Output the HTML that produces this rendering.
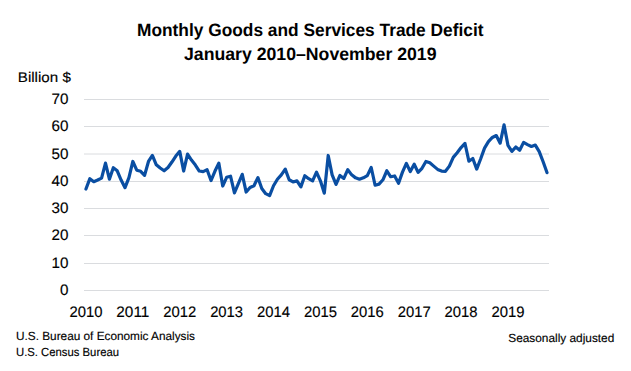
<!DOCTYPE html>
<html><head><meta charset="utf-8"><style>
html,body{margin:0;padding:0;background:#fff;}
body{width:631px;height:371px;overflow:hidden;}
svg{display:block;font-family:"Liberation Sans",sans-serif;text-rendering:geometricPrecision;}
</style></head><body>
<svg width="631" height="371" viewBox="0 0 631 371">
<rect width="631" height="371" fill="#fff"/>
<g font-weight="bold" font-size="17.8" fill="#000">
<text x="137" y="35.9" textLength="346.5" lengthAdjust="spacingAndGlyphs">Monthly Goods and Services Trade Deficit</text>
<text x="184" y="59.9" textLength="252.5" lengthAdjust="spacingAndGlyphs">January 2010–November 2019</text>
</g>
<text x="17.8" y="81.7" font-size="14" fill="#000" stroke="#000" stroke-width="0.15" textLength="53" lengthAdjust="spacingAndGlyphs">Billion $</text>
<g stroke="#dadcdf" stroke-width="1"><line x1="84" y1="290.50" x2="549" y2="290.50"/><line x1="84" y1="263.50" x2="549" y2="263.50"/><line x1="84" y1="235.50" x2="549" y2="235.50"/><line x1="84" y1="208.50" x2="549" y2="208.50"/><line x1="84" y1="181.50" x2="549" y2="181.50"/><line x1="84" y1="154.00" x2="549" y2="154.00"/><line x1="84" y1="126.50" x2="549" y2="126.50"/><line x1="84" y1="99.50" x2="549" y2="99.50"/></g>
<g font-size="15.2" fill="#000" stroke="#000" stroke-width="0.15" text-anchor="end"><text x="68.5" y="295.00">0</text><text x="68.5" y="268.00">10</text><text x="68.5" y="240.00">20</text><text x="68.5" y="213.00">30</text><text x="68.5" y="186.00">40</text><text x="68.5" y="158.50">50</text><text x="68.5" y="131.00">60</text><text x="68.5" y="104.00">70</text></g>
<g font-size="15.2" fill="#000" stroke="#000" stroke-width="0.15"><text x="85.95" y="316.6" text-anchor="middle" textLength="33" lengthAdjust="spacingAndGlyphs">2010</text><text x="132.84" y="316.6" text-anchor="middle" textLength="33" lengthAdjust="spacingAndGlyphs">2011</text><text x="179.74" y="316.6" text-anchor="middle" textLength="33" lengthAdjust="spacingAndGlyphs">2012</text><text x="226.63" y="316.6" text-anchor="middle" textLength="33" lengthAdjust="spacingAndGlyphs">2013</text><text x="273.52" y="316.6" text-anchor="middle" textLength="33" lengthAdjust="spacingAndGlyphs">2014</text><text x="320.41" y="316.6" text-anchor="middle" textLength="33" lengthAdjust="spacingAndGlyphs">2015</text><text x="367.30" y="316.6" text-anchor="middle" textLength="33" lengthAdjust="spacingAndGlyphs">2016</text><text x="414.19" y="316.6" text-anchor="middle" textLength="33" lengthAdjust="spacingAndGlyphs">2017</text><text x="461.08" y="316.6" text-anchor="middle" textLength="33" lengthAdjust="spacingAndGlyphs">2018</text><text x="507.97" y="316.6" text-anchor="middle" textLength="33" lengthAdjust="spacingAndGlyphs">2019</text></g>
<polyline points="85.95,189.04 89.86,178.67 93.77,181.68 97.68,180.04 101.58,178.13 105.49,163.12 109.40,179.22 113.31,167.76 117.21,170.76 121.12,180.04 125.03,187.68 128.94,177.58 132.84,161.48 136.75,170.22 140.66,171.31 144.57,175.40 148.47,161.48 152.38,155.48 156.29,164.76 160.20,168.03 164.11,170.76 168.01,167.49 171.92,162.03 175.83,156.03 179.74,151.39 183.64,171.03 187.55,154.12 191.46,160.12 195.37,165.03 199.27,171.03 203.18,171.58 207.09,169.67 211.00,180.58 214.90,171.31 218.81,163.12 222.72,186.04 226.63,177.31 230.53,176.22 234.44,192.86 238.35,183.59 242.26,174.31 246.16,192.04 250.07,187.41 253.98,185.77 257.89,177.58 261.79,188.50 265.70,193.68 269.61,195.59 273.52,185.77 277.42,179.22 281.33,174.85 285.24,169.12 289.15,179.77 293.05,181.95 296.96,180.86 300.87,186.86 304.78,175.67 308.68,178.67 312.59,180.86 316.50,172.13 320.41,180.86 324.32,193.14 328.22,155.48 332.13,174.85 336.04,184.40 339.95,175.40 343.85,178.40 347.76,169.67 351.67,174.85 355.58,177.86 359.48,179.22 363.39,177.86 367.30,175.67 371.21,167.49 375.11,185.22 379.02,184.13 382.93,179.77 386.84,170.76 390.74,176.76 394.65,175.95 398.56,183.31 402.47,172.13 406.37,163.39 410.28,171.58 414.19,164.21 418.10,172.40 422.00,168.31 425.91,161.48 429.82,162.85 433.73,166.12 437.63,169.40 441.54,171.03 445.45,171.31 449.36,166.12 453.26,157.39 457.17,152.75 461.08,147.57 464.99,143.48 468.89,161.21 472.80,158.48 476.71,169.12 480.62,159.03 484.53,148.11 488.43,141.57 492.34,137.47 496.25,135.56 500.16,143.20 504.06,124.92 507.97,145.39 511.88,151.39 515.79,147.02 519.69,150.30 523.60,142.38 527.51,144.57 531.42,146.48 535.32,145.11 539.23,151.66 543.14,161.76 547.05,172.67" fill="none" stroke="#0a4ea2" stroke-width="3.2" stroke-linejoin="round" stroke-linecap="round"/>
<g font-size="11.8" fill="#000" stroke="#000" stroke-width="0.15">
<text x="16" y="339.6" textLength="179" lengthAdjust="spacingAndGlyphs">U.S. Bureau of Economic Analysis</text>
<text x="16" y="355.6" textLength="103" lengthAdjust="spacingAndGlyphs">U.S. Census Bureau</text>
<text x="508.3" y="341.6" textLength="106" lengthAdjust="spacingAndGlyphs">Seasonally adjusted</text>
</g>
</svg>
</body></html>
